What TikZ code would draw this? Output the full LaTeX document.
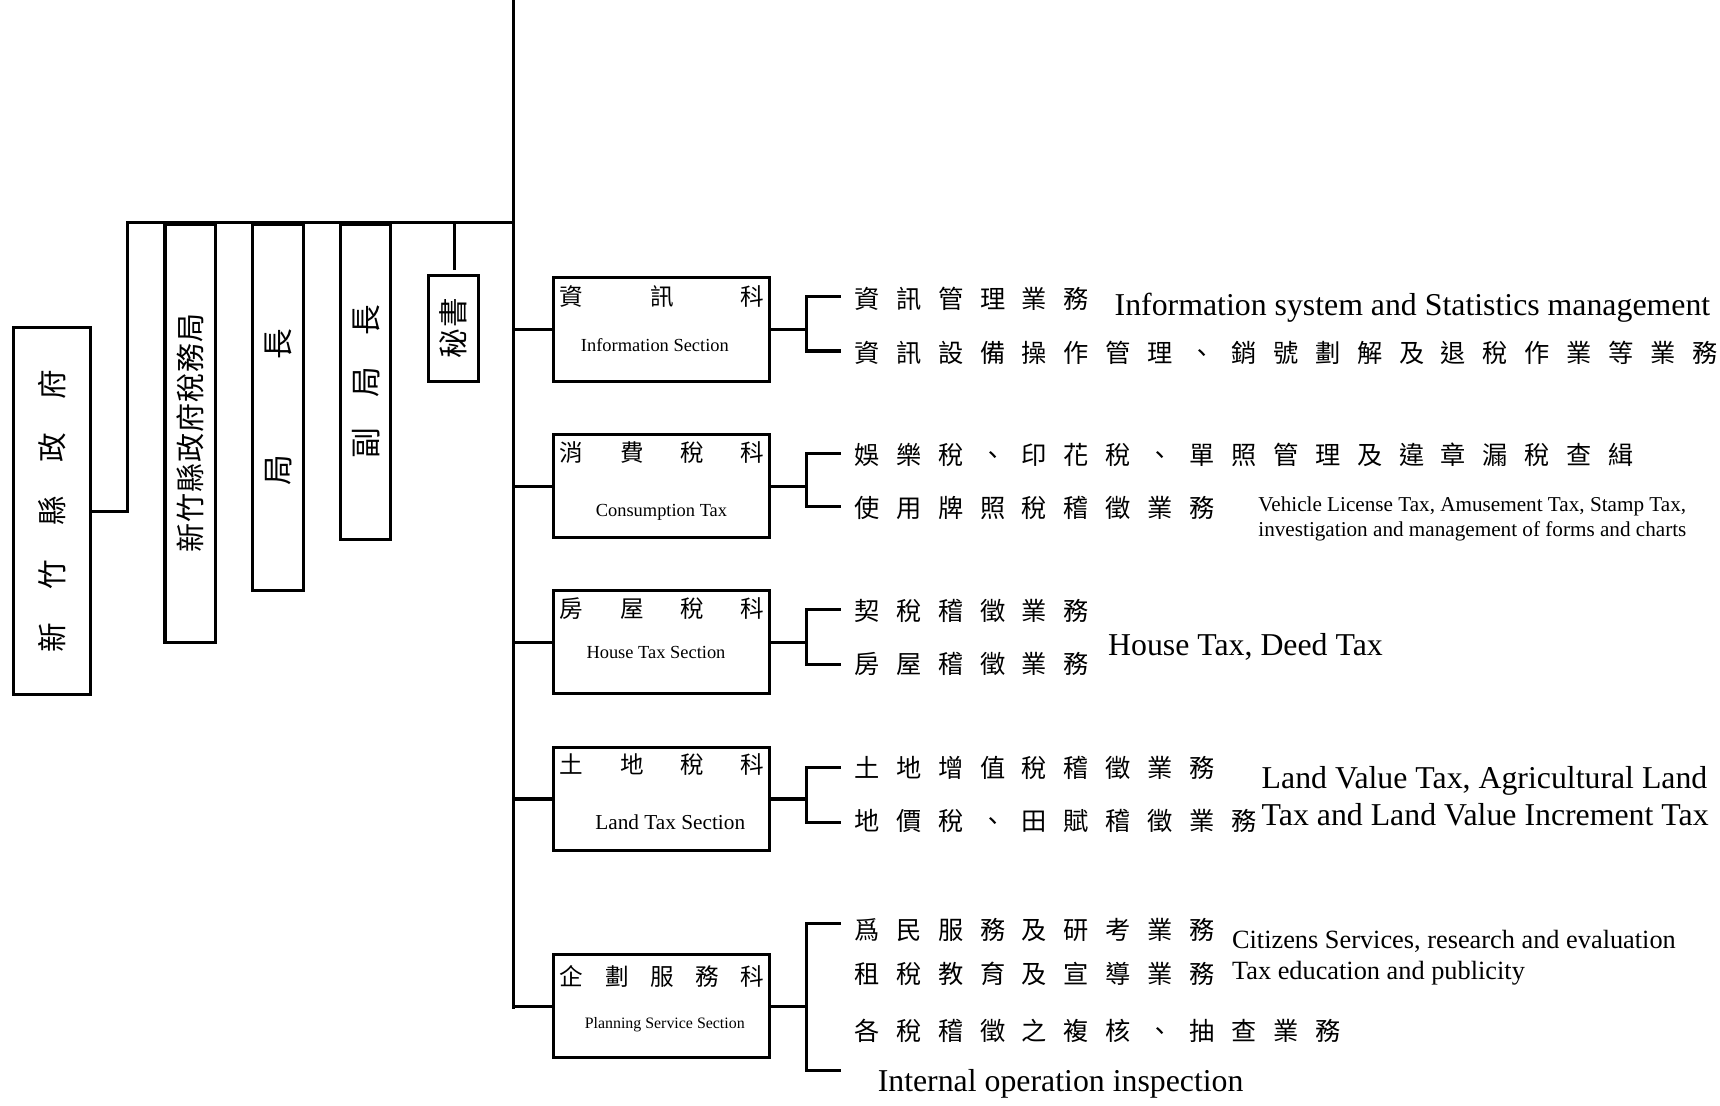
\documentclass[tikz,border=0pt]{standalone}
\usepackage{fontspec}
\setmainfont{Liberation Serif}
\newfontfamily\cjk{Noto Sans CJK TC}
\newlength\cjkw
\def\spreadloop#1{\ifx\relax#1\else\makebox[\cjkw]{#1}\expandafter\spreadloop\fi}
\newcommand\spreadchars[2]{\setlength\cjkw{#1}\spreadloop#2\relax}
\tikzset{
  ln/.style={line width=2.8pt, line cap=rect},
  secbox/.style={draw, line width=2.8pt, inner sep=0pt, minimum width=197pt, minimum height=94pt, anchor=north west},
  colbox/.style={draw, line width=2.8pt, inner sep=0pt, anchor=north west},
  row/.style={anchor=west, inner sep=0pt, font=\cjk\fontsize{23}{23}\selectfont},
  ttl/.style={anchor=west, inner sep=0pt, font=\cjk\fontsize{21.5}{21.5}\selectfont},
  big/.style={anchor=base west, inner sep=0pt, font=\fontsize{29}{29}\selectfont},
  lbl/.style={anchor=base, inner sep=0pt},
  vt/.style={rotate=90, inner sep=0pt},
}
\begin{document}
\begin{tikzpicture}[x=1pt,y=-1pt]
\useasboundingbox (0,0) rectangle (1568,1008);
% left column boxes
\node[colbox, minimum width=70pt, minimum height=335pt] (gov) at (11,297) {};
\node[vt] at (gov.center) {\cjk\fontsize{27}{27}\selectfont\spreadchars{57.8pt}{新竹縣政府}};
\node[colbox, minimum width=46pt, minimum height=381pt] (bur) at (149,203) {};
\node[vt] at (bur.center) {\cjk\fontsize{26.5}{26.5}\selectfont\spreadchars{27.4pt}{新竹縣政府稅務局}};
\node[colbox, minimum width=46pt, minimum height=334pt] (dir) at (229,203) {};
\node[vt] at (dir.center) {\cjk\fontsize{28}{28}\selectfont\spreadchars{115pt}{局長}};
\node[colbox, minimum width=46pt, minimum height=287pt] (dep) at (309,203) {};
\node[vt] at (dep.center) {\cjk\fontsize{28}{28}\selectfont\spreadchars{56pt}{副局長}};
\node[colbox, minimum width=46pt, minimum height=96pt] (sec) at (389,250) {};
\node[vt] at (sec.center) {\cjk\fontsize{27}{27}\selectfont\spreadchars{28pt}{秘書}};
% trunk and top line
\coordinate (ttop) at (468,0);
\coordinate (tbot) at (468,918);
\coordinate (cor) at (116,203);
\coordinate (secstub) at (414,245);
\draw[ln] (ttop) -- (tbot);
\draw[ln] (gov.east) -| (cor) -- (ttop |- cor);
\draw[ln] (secstub |- cor) -- (secstub);
% section boxes
\node[secbox] (s1) at (503,252) {};
\node[secbox] (s2) at (503,395) {};
\node[secbox] (s3) at (503,537) {};
\node[secbox] (s4) at (503,680) {};
\node[secbox] (s5) at (503,869) {};
% box titles
\node[ttl] at (521-41.25,270) {\spreadchars{82.5pt}{資訊科}};
\node[lbl, font=\fontsize{16.8}{16.8}\selectfont] at (597,320.5) {Information Section};
\node[ttl] at (521-27.5,413) {\spreadchars{55pt}{消費稅科}};
\node[lbl, font=\fontsize{16.8}{16.8}\selectfont] at (603,470.5) {Consumption Tax};
\node[ttl] at (521-27.5,555) {\spreadchars{55pt}{房屋稅科}};
\node[lbl, font=\fontsize{16.8}{16.8}\selectfont] at (598,600.5) {House Tax Section};
\node[ttl] at (521-27.5,697) {\spreadchars{55pt}{土地稅科}};
\node[lbl, font=\fontsize{19.4}{19.4}\selectfont] at (611,756.5) {Land Tax Section};
\node[ttl] at (521-20.6,890) {\spreadchars{41.25pt}{企劃服務科}};
\node[lbl, font=\fontsize{14.5}{14.5}\selectfont] at (606,938) {Planning Service Section};
% trunk branches and brackets
\foreach \s/\a/\b in {s1/270/320, s2/413/462, s3/556/606, s4/700/750, s5/842/976}{
  \draw[ln] (tbot |- \s.west) -- (\s.west);
  \draw[ln] (\s.east) -- (735,0 |- \s.east);
  \draw[ln] (765,\a) -- (735,\a) -- (735,\b) -- (765,\b);
}
% rows
\node[row] at (771,272) {\spreadchars{38.2pt}{資訊管理業務}};
\node[row] at (771,322) {\spreadchars{38.2pt}{資訊設備操作管理、銷號劃解及退稅作業等業務}};
\node[big] at (1016,288) {Information system and Statistics management};
\node[row] at (771,415) {\spreadchars{38.2pt}{娛樂稅、印花稅、單照管理及違章漏稅查緝}};
\node[row] at (771,463) {\spreadchars{38.2pt}{使用牌照稅稽徵業務}};
\node[anchor=base west, inner sep=0pt, font=\fontsize{19.3}{19.3}\selectfont] at (1147,466.5) {Vehicle License Tax, Amusement Tax, Stamp Tax,};
\node[anchor=base west, inner sep=0pt, font=\fontsize{19.3}{19.3}\selectfont] at (1147,489.5) {investigation and management of forms and charts};
\node[row] at (771,557) {\spreadchars{38.2pt}{契稅稽徵業務}};
\node[row] at (771,605) {\spreadchars{38.2pt}{房屋稽徵業務}};
\node[big] at (1010,597.6) {House Tax, Deed Tax};
\node[row] at (771,700) {\spreadchars{38.2pt}{土地增值稅稽徵業務}};
\node[row] at (771,748) {\spreadchars{38.2pt}{地價稅、田賦稽徵業務}};
\node[big] at (1150,718.6) {Land Value Tax, Agricultural Land};
\node[big] at (1150,752.6) {Tax and Land Value Increment Tax};
\node[row] at (771,848) {\spreadchars{38.2pt}{爲民服務及研考業務}};
\node[row] at (771,888) {\spreadchars{38.2pt}{租稅教育及宣導業務}};
\node[row] at (771,940) {\spreadchars{38.2pt}{各稅稽徵之複核、抽查業務}};
\node[anchor=base west, inner sep=0pt, font=\fontsize{24}{24}\selectfont] at (1123,865) {Citizens Services, research and evaluation};
\node[anchor=base west, inner sep=0pt, font=\fontsize{24}{24}\selectfont] at (1123,893) {Tax education and publicity};
\node[big] at (800,994.6) {Internal operation inspection};
\end{tikzpicture}
\end{document}
